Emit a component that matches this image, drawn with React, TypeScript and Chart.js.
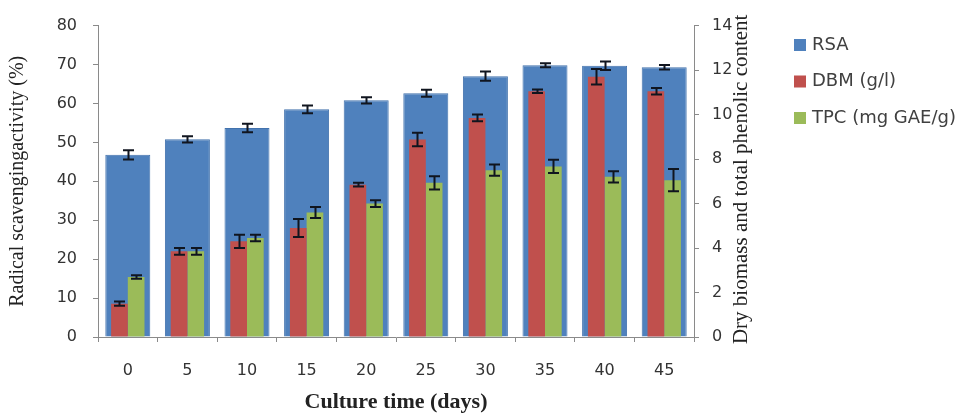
import React, { useEffect, useRef } from "react";
import { Chart, registerables } from "chart.js";

Chart.register(...registerables);

const days = ["0", "5", "10", "15", "20", "25", "30", "35", "40", "45"];

const rsaValues = [46.8, 50.8, 53.7, 58.5, 60.8, 62.6, 67.0, 69.8, 69.7, 69.3];
const rsaErrors = [1.2, 0.8, 1.1, 1.0, 0.8, 0.9, 1.2, 0.5, 1.1, 0.6];

const dbmValues = [1.5, 3.85, 4.3, 4.9, 6.85, 8.88, 9.85, 11.05, 11.7, 11.05];
const dbmErrors = [0.1, 0.15, 0.3, 0.4, 0.08, 0.3, 0.15, 0.08, 0.35, 0.15];

const tpcValues = [2.7, 3.85, 4.45, 5.6, 6.0, 6.93, 7.5, 7.67, 7.2, 7.05];
const tpcErrors = [0.08, 0.15, 0.15, 0.25, 0.15, 0.3, 0.25, 0.3, 0.25, 0.5];

const leftTicksMax = 80;
const rightTicksMax = 14;

const seriesLabels = ["RSA", "DBM (g/l)", "TPC (mg GAE/g)"];
const seriesColors = ["#4F81BD", "#C0504D", "#9BBB59"];

const leftTitle = "Radical scavengingactivity (%)";
const rightTitle = "Dry biomass and total phenolic content";
const bottomTitle = "Culture time (days)";

const errorsByDataset = [rsaErrors, dbmErrors, tpcErrors];

const SANS = "'DejaVu Sans', 'Open Sans', sans-serif";
const SERIF = "'Liberation Serif', 'DejaVu Serif', serif";

const errorBarPlugin = {
  id: "errorBars",
  afterDatasetsDraw(chart: any) {
    const ctx = chart.ctx;
    ctx.save();
    ctx.strokeStyle = "#10151f";
    ctx.lineWidth = 2;
    chart.data.datasets.forEach((ds: any, i: number) => {
      const meta = chart.getDatasetMeta(i);
      const yScale = chart.scales[meta.yAxisID];
      const errs = errorsByDataset[i];
      meta.data.forEach((bar: any, j: number) => {
        const v = ds.data[j];
        const e = errs[j];
        const x = Math.round(bar.x) + 0.5;
        const yT = yScale.getPixelForValue(v + e);
        const yB = yScale.getPixelForValue(v - e);
        const cap = 5.5;
        ctx.beginPath();
        ctx.moveTo(x, yT);
        ctx.lineTo(x, yB);
        ctx.moveTo(x - cap, yT);
        ctx.lineTo(x + cap, yT);
        ctx.moveTo(x - cap, yB);
        ctx.lineTo(x + cap, yB);
        ctx.stroke();
      });
    });
    ctx.restore();
  },
};

const extrasPlugin = {
  id: "extras",
  afterDraw(chart: any) {
    const ctx = chart.ctx;
    const area = chart.chartArea;
    ctx.save();
    // right axis title, reading bottom to top
    ctx.font = `21px ${SERIF}`;
    ctx.fillStyle = "#222222";
    ctx.textAlign = "center";
    ctx.textBaseline = "middle";
    ctx.translate(741, (area.top + area.bottom) / 2 - 2);
    ctx.rotate(-Math.PI / 2);
    ctx.fillText(rightTitle, 0, 0);
    ctx.restore();

    // legend
    ctx.save();
    ctx.font = `18px ${SANS}`;
    ctx.textAlign = "left";
    ctx.textBaseline = "middle";
    chart.data.datasets.forEach((ds: any, i: number) => {
      const cy = 45 + i * 36.5;
      ctx.fillStyle = ds.backgroundColor;
      ctx.fillRect(794, cy - 6, 12, 12);
      ctx.fillStyle = "#404040";
      ctx.fillText(ds.label, 812, cy);
    });
    ctx.restore();
  },
};

export default function App() {
  const canvasRef = useRef<HTMLCanvasElement | null>(null);

  useEffect(() => {
    const canvas = canvasRef.current;
    if (!canvas) return;
    const tickFont = { family: SANS, size: 16 };
    const chart = new Chart(canvas, {
      type: "bar",
      data: {
        labels: days,
        datasets: [
          {
            label: seriesLabels[0],
            data: rsaValues,
            backgroundColor: seriesColors[0],
            borderColor: "#4272AD",
            borderWidth: 1,
            xAxisID: "x",
            yAxisID: "y",
            grouped: false,
            barPercentage: 0.755,
            categoryPercentage: 1,
            order: 3,
          },
          {
            label: seriesLabels[1],
            data: dbmValues,
            backgroundColor: seriesColors[1],
            xAxisID: "x",
            yAxisID: "y2",
            barPercentage: 1,
            categoryPercentage: 0.56,
            order: 1,
          },
          {
            label: seriesLabels[2],
            data: tpcValues,
            backgroundColor: seriesColors[2],
            xAxisID: "x",
            yAxisID: "y2",
            barPercentage: 1,
            categoryPercentage: 0.56,
            order: 2,
          },
        ],
      },
      options: {
        responsive: false,
        animation: false,
        devicePixelRatio: 1,
        layout: { padding: { top: 22, left: 0, right: 0, bottom: 0 } },
        plugins: {
          legend: { display: false },
          tooltip: { enabled: false },
        },
        scales: {
          x: {
            type: "category",
            position: "bottom",
            offset: true,
            grid: {
              display: true,
              offset: true,
              drawOnChartArea: false,
              drawTicks: true,
              tickLength: 5,
              color: "#8a8a8a",
            },
            border: { display: true, color: "#8a8a8a", width: 1 },
            ticks: { font: tickFont, color: "#333333", padding: 19, maxRotation: 0 },
            title: {
              display: true,
              text: bottomTitle,
              font: { family: SERIF, size: 22, weight: "bold" },
              color: "#222222",
              padding: { top: 0, bottom: 3 },
            },
            afterFit: (s: any) => {
              s.height = 82;
            },
          },
          y: {
            position: "left",
            min: 0,
            max: leftTicksMax,
            ticks: { stepSize: 10, font: tickFont, color: "#333333", padding: 16 },
            grid: {
              display: true,
              drawOnChartArea: false,
              drawTicks: true,
              tickLength: 5,
              color: "#8a8a8a",
            },
            border: { display: true, color: "#8a8a8a", width: 1 },
            title: {
              display: true,
              text: leftTitle,
              font: { family: SERIF, size: 20 },
              color: "#222222",
              padding: { top: 6, bottom: 0 },
            },
            afterFit: (s: any) => {
              s.width = 98;
            },
          },
          y2: {
            position: "right",
            min: 0,
            max: rightTicksMax,
            ticks: { stepSize: 2, font: tickFont, color: "#333333", padding: 13 },
            grid: {
              display: true,
              drawOnChartArea: false,
              drawTicks: true,
              tickLength: 5,
              color: "#8a8a8a",
            },
            border: { display: true, color: "#8a8a8a", width: 1 },
            afterFit: (s: any) => {
              s.width = 272;
            },
          },
        },
      },
      plugins: [errorBarPlugin, extrasPlugin],
    } as any);
    return () => chart.destroy();
  }, []);

  return (
    <div style={{ position: "fixed", left: 0, top: 0, width: 966, height: 419, background: "#ffffff" }}>
      <canvas ref={canvasRef} width={966} height={419} style={{ display: "block", width: 966, height: 419 }} />
    </div>
  );
}
